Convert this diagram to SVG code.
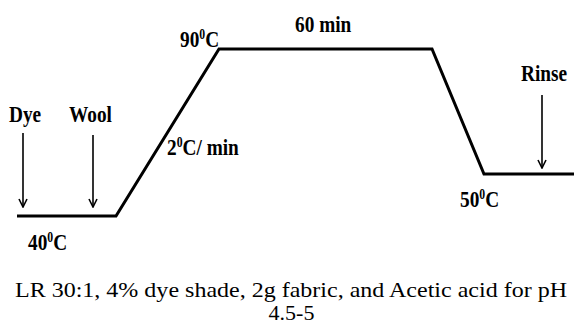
<svg xmlns="http://www.w3.org/2000/svg" width="574" height="325" viewBox="0 0 574 325">
<style>
.lbl{font-family:"Liberation Serif","Times New Roman",serif;font-weight:bold;font-size:23px;fill:#000}
.sup{font-size:14px}
.cap{font-family:"Liberation Serif","Times New Roman",serif;font-size:22px;fill:#000}
.arr{stroke:#000;stroke-width:1.6;fill:none}
</style>
<defs>
<marker id="ah" viewBox="0 0 10 10" refX="9" refY="5" markerWidth="10" markerHeight="10" markerUnits="userSpaceOnUse" orient="auto">
<path d="M1,1 L9,5 L1,9" fill="none" stroke="#000" stroke-width="1.6"/>
</marker>
</defs>
<rect width="574" height="325" fill="#fff"/>
<g id="connectors">
<path id="profile" d="M17,216 H116 L219,49 H432 L484,174 H574" fill="none" stroke="#000" stroke-width="3"/>
<line class="arr" x1="23" y1="133" x2="23" y2="207" marker-end="url(#ah)"/>
<line class="arr" x1="93" y1="135" x2="93" y2="207" marker-end="url(#ah)"/>
<line class="arr" x1="542" y1="95" x2="542" y2="168" marker-end="url(#ah)"/>
</g>
<g id="dye"><text class="lbl" transform="translate(9,122) scale(0.84,1)">Dye</text></g>
<g id="wool"><text class="lbl" transform="translate(69,122) scale(0.84,1)">Wool</text></g>
<g id="t90"><text class="lbl" transform="translate(180,47) scale(0.84,1)">90<tspan class="sup" dy="-8">0</tspan><tspan dy="8">C</tspan></text></g>
<g id="t60"><text class="lbl" transform="translate(295,32) scale(0.84,1)">60 min</text></g>
<g id="rinse"><text class="lbl" transform="translate(521,81) scale(0.84,1)">Rinse</text></g>
<g id="rate"><text class="lbl" transform="translate(167,155) scale(0.84,1)">2<tspan class="sup" dy="-8">0</tspan><tspan dy="8">C/ min</tspan></text></g>
<g id="t40"><text class="lbl" transform="translate(28,250) scale(0.84,1)">40<tspan class="sup" dy="-8">0</tspan><tspan dy="8">C</tspan></text></g>
<g id="t50"><text class="lbl" transform="translate(460,207) scale(0.84,1)">50<tspan class="sup" dy="-8">0</tspan><tspan dy="8">C</tspan></text></g>
<g id="caption">
<text class="cap" x="15" y="297" textLength="552" lengthAdjust="spacingAndGlyphs">LR 30:1, 4% dye shade, 2g fabric, and Acetic acid for pH</text>
<text class="cap" x="291.5" y="320" text-anchor="middle">4.5-5</text>
</g>
</svg>
